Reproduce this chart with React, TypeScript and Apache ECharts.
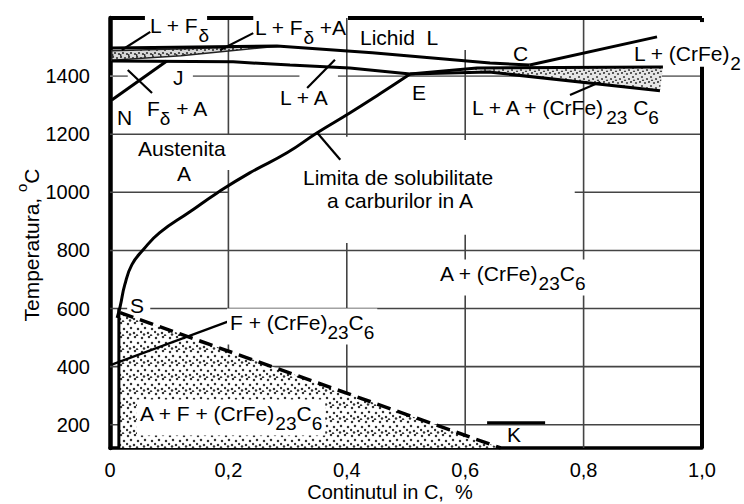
import React, { useEffect, useRef } from "react";
import * as echarts from "echarts";

type P = [number, number];

const FONT = '"Liberation Sans", Arial, Helvetica, sans-serif';

// axis ticks
const xTickValues = [0, 0.2, 0.4, 0.6, 0.8, 1.0];
const yTickValues = [200, 400, 600, 800, 1000, 1200, 1400];

// phase boundaries (C %, °C)
const liquidus: P[] = [[0.003, 1497], [0.282, 1504], [0.443, 1480], [0.642, 1445], [0.709, 1438]];
const carbideLiquidus: P[] = [[0.709, 1438], [0.924, 1535]];
const solidusA: P[] = [[0.003, 1452], [0.208, 1449], [0.304, 1438], [0.405, 1428], [0.507, 1407]];
const eutecticUpper: P[] = [[0.507, 1407], [0.62, 1428], [0.934, 1431]];
const eutecticLower: P[] = [[0.507, 1407], [0.64, 1414], [0.929, 1350]];
const deltaBoundary: P[] = [[0.003, 1318], [0.096, 1452]];
const solvusAcm: P[] = [
  [0.012, 568], [0.017, 606], [0.025, 682], [0.037, 751], [0.056, 802], [0.084, 861],
  [0.135, 933], [0.181, 998], [0.236, 1067], [0.299, 1136], [0.35, 1205], [0.405, 1273],
  [0.456, 1339], [0.507, 1407],
];
const eutectoidDashed: P[] = [[0.017, 586], [0.66, 120]];
const ferriteSolvus: P[] = [[0.015, 120], [0.015, 600]];
const lineK: P[] = [[0.637, 207], [0.735, 207]];

// shaded regions
const peritecticWedge: P[] = [[0.003, 1487], [0.283, 1503], [0.12, 1470], [0.003, 1455]];
const eutecticWedge: P[] = [[0.6, 1426], [0.934, 1431], [0.929, 1350], [0.64, 1414]];
const lowZone: P[] = [[0.015, 588], [0.66, 120], [0.015, 120]];

// label pointer lines
const pointers: P[][] = [
  [[0.02, 1490], [0.068, 1552]],
  [[0.186, 1490], [0.242, 1548]],
  [[0.333, 1359], [0.38, 1456]],
  [[0.777, 1335], [0.828, 1380]],
  [[0.35, 1205], [0.389, 1112]],
  [[0.003, 407], [0.199, 555]],
  [[0.03, 1421], [0.071, 1342]],
];

// grid line segments: [value, from, to]
const hGrid: [number, number, number][] = [
  [1200, 0, 1], [1000, 0, 0.2], [1000, 0.785, 1], [800, 0, 1], [600, 0, 0.029], [600, 0.068, 1],
  [400, 0, 1], [200, 0, 1],
];
const hGrid1400: [number, number, number][] = [[1400, 0, 0.03], [1400, 0.14, 0.32], [1400, 0.385, 1]];
const vGrid: [number, number, number][] = [
  [0.2, 1200, 1600], [0.2, 120, 1077], [0.4, 1191, 1600], [0.4, 120, 826],
  [0.6, 1180, 1490], [0.6, 120, 854], [0.8, 120, 1600],
];
// frame (top and right borders)
const topFrame: [number, number][] = [[0, 0.059], [0.164, 0.242], [0.402, 1]];
const rightFrame: [number, number][] = [[120, 1432], [1586, 1600]];

const NB = "\u00a0";
const labels: { x: number; cy: number; t: string; bg?: boolean }[] = [
  { x: 150, cy: 25, t: "{n|L + F}{s|δ}" },
  { x: 255, cy: 27, t: `{n|L + F}{s|δ}{n|${NB}+A}` },
  { x: 360, cy: 37, t: `{n|Lichid${NB}${NB}L}` },
  { x: 513, cy: 53, t: "{n|C}" },
  { x: 634, cy: 53, t: "{n|L + (CrFe)}{s|2}" },
  { x: 173, cy: 77, t: "{n|J}" },
  { x: 117, cy: 117, t: "{n|N}" },
  { x: 147, cy: 108, t: `{n|F}{s|δ}{n|${NB}+ A}` },
  { x: 280, cy: 97, t: "{n|L + A}" },
  { x: 412, cy: 92, t: "{n|E}" },
  { x: 472, cy: 107, t: `{n|L + A + (CrFe)}{s|23}{n|${NB}C}{s|6}` },
  { x: 138, cy: 148, t: "{n|Austenita}" },
  { x: 177, cy: 173, t: "{n|A}" },
  { x: 303, cy: 177, t: "{n|Limita de solubilitate}" },
  { x: 327, cy: 200, t: "{n|a carburilor in A}" },
  { x: 440, cy: 273, t: "{n|A + (CrFe)}{s|23}{n|C}{s|6}", bg: true },
  { x: 130, cy: 305, t: "{n|S}" },
  { x: 230, cy: 322, t: "{n|F + (CrFe)}{s|23}{n|C}{s|6}", bg: true },
  { x: 140, cy: 413, t: "{n|A + F + (CrFe)}{s|23}{n|C}{s|6}", bg: true },
  { x: 507, cy: 434, t: "{n|K}" },
];

function stipple(size: number, dots: number[][], r: number, color: string, bg: string) {
  const c = document.createElement("canvas");
  c.width = size;
  c.height = size;
  const ctx = c.getContext("2d")!;
  ctx.fillStyle = bg;
  ctx.fillRect(0, 0, size, size);
  ctx.fillStyle = color;
  dots.forEach(([x, y]) => {
    ctx.beginPath();
    ctx.arc(x, y, r, 0, Math.PI * 2);
    ctx.fill();
  });
  return { image: c.toDataURL(), repeat: "repeat", imageWidth: size, imageHeight: size };
}

function lineSeries(data: P[], o: { width?: number; color?: string; type?: any; smooth?: boolean; clip?: boolean; z?: number } = {}) {
  return {
    type: "line",
    data,
    symbol: "none",
    showSymbol: false,
    smooth: o.smooth ?? false,
    clip: o.clip ?? true,
    silent: true,
    z: o.z ?? 5,
    lineStyle: { color: o.color ?? "#000", width: o.width ?? 3, type: o.type ?? "solid", cap: "butt" },
  };
}

function polySeries(pts: P[], fill: any, stroke?: string) {
  return {
    type: "custom",
    coordinateSystem: "cartesian2d",
    data: [[pts[0][0], pts[0][1]]],
    silent: true,
    z: 2,
    renderItem: (_params: any, api: any) => ({
      type: "polygon",
      shape: { points: pts.map((p) => api.coord(p)) },
      style: { fill, stroke: stroke ?? "none", lineWidth: stroke ? 1.5 : 0 },
    }),
  };
}

export default function App() {
  const ref = useRef<HTMLDivElement>(null);
  useEffect(() => {
    document.body.style.margin = "0";
    const chart = echarts.init(ref.current!, null, { renderer: "svg" });
    const dense = stipple(8, [[1, 1], [5, 2], [3, 5], [7, 6], [0.5, 7]], 1.1, "#333", "#d8d8d8");
    const medium = stipple(9, [[1, 1], [6, 2], [3, 5], [8, 7], [4, 8.5]], 1.1, "#444", "#e6e6e6");
    const sparse = stipple(14, [[2, 2], [9, 1], [5, 6], [12, 7], [1, 10], [8, 11], [11, 13.5], [4, 12.5]], 1.25, "#333", "#fff");

    const rich = {
      n: { fontSize: 21, fontFamily: FONT, lineHeight: 30, verticalAlign: "top", fill: "#000" },
      s: { fontSize: 19, fontFamily: FONT, verticalAlign: "bottom", fill: "#000" },
    };

    const series: any[] = [];
    hGrid.forEach(([v, a, b]) => series.push(lineSeries([[a, v], [b, v]], { color: "#444", width: 1.6, z: 1 })));
    hGrid1400.forEach(([v, a, b]) => series.push(lineSeries([[a, v], [b, v]], { color: "#777", width: 1.6, z: 1 })));
    vGrid.forEach(([v, a, b]) => series.push(lineSeries([[v, a], [v, b]], { color: "#444", width: 1.6, z: 1 })));
    topFrame.forEach(([a, b]) => series.push(lineSeries([[a, 1600], [b, 1600]], { width: 4, clip: false, z: 6 })));
    rightFrame.forEach(([a, b]) => series.push(lineSeries([[1, a], [1, b]], { width: 4, clip: false, z: 6 })));

    series.push(polySeries(peritecticWedge, dense, "#222"));
    series.push(polySeries(eutecticWedge, medium));
    series.push(polySeries(lowZone, sparse));

    series.push(lineSeries(liquidus));
    series.push(lineSeries(carbideLiquidus));
    series.push(lineSeries(solidusA));
    series.push(lineSeries(eutecticUpper));
    series.push(lineSeries(eutecticLower));
    series.push(lineSeries(deltaBoundary));
    series.push(lineSeries(solvusAcm, { smooth: true }));
    series.push(lineSeries(eutectoidDashed, { type: [14, 7], width: 3.5 }));
    series.push(lineSeries(ferriteSolvus));
    series.push(lineSeries(lineK, { width: 3 }));
    pointers.forEach((p) => series.push(lineSeries(p, { width: 2.2 })));

    const graphic: any[] = labels.map((l) => {
      const pad = l.bg ? 3 : 0;
      return {
        type: "text",
        x: l.x - pad,
        y: l.cy - 10.5 - pad,
        z: 100,
        silent: true,
        style: {
          text: l.t,
          rich,
          fontSize: 21,
          fontFamily: FONT,
          fill: "#000",
          align: "left",
          verticalAlign: "top",
          backgroundColor: l.bg ? "#fff" : undefined,
          padding: l.bg ? [pad, pad, pad, pad] : undefined,
        },
      };
    });
    graphic.push({
      type: "text",
      x: 28,
      y: 245,
      rotation: Math.PI / 2,
      z: 100,
      silent: true,
      style: {
        text: "{n|Temperatura, }{sup|o}{n|C}",
        rich: {
          n: { fontSize: 21, fontFamily: FONT, lineHeight: 28, verticalAlign: "bottom", fill: "#000" },
          sup: { fontSize: 15, fontFamily: FONT, verticalAlign: "top", fill: "#000" },
        },
        align: "center",
        verticalAlign: "middle",
      },
    });
    graphic.push({
      type: "text",
      x: 390,
      y: 492,
      z: 100,
      silent: true,
      style: {
        text: `Continutul in C,${NB}${NB}%`,
        fontSize: 20,
        fontFamily: FONT,
        fill: "#000",
        align: "center",
        verticalAlign: "middle",
      },
    });

    chart.setOption({
      animation: false,
      grid: { left: 110, right: 42, top: 18, bottom: 56, show: false },
      xAxis: {
        type: "value",
        min: xTickValues[0],
        max: xTickValues[xTickValues.length - 1],
        interval: 0.2,
        axisLine: { onZero: false, lineStyle: { color: "#000", width: 3.5 } },
        axisTick: { show: false },
        splitLine: { show: false },
        axisLabel: {
          color: "#000",
          fontSize: 20,
          fontFamily: FONT,
          margin: 12,
          formatter: (v: number) => (v === 0 ? "0" : v.toFixed(1).replace(".", ",")),
        },
      },
      yAxis: {
        type: "value",
        min: 120,
        max: 1600,
        interval: 40,
        axisLine: { onZero: false, lineStyle: { color: "#000", width: 4.5 } },
        axisTick: { show: false },
        splitLine: { show: false },
        axisLabel: {
          color: "#000",
          fontSize: 20,
          fontFamily: FONT,
          margin: 20,
          formatter: (v: number) => (yTickValues.includes(Math.round(v)) ? String(Math.round(v)) : ""),
        },
      },
      series,
      graphic,
    });
    return () => chart.dispose();
  }, []);
  return <div ref={ref} style={{ width: 744, height: 504 }} />;
}
